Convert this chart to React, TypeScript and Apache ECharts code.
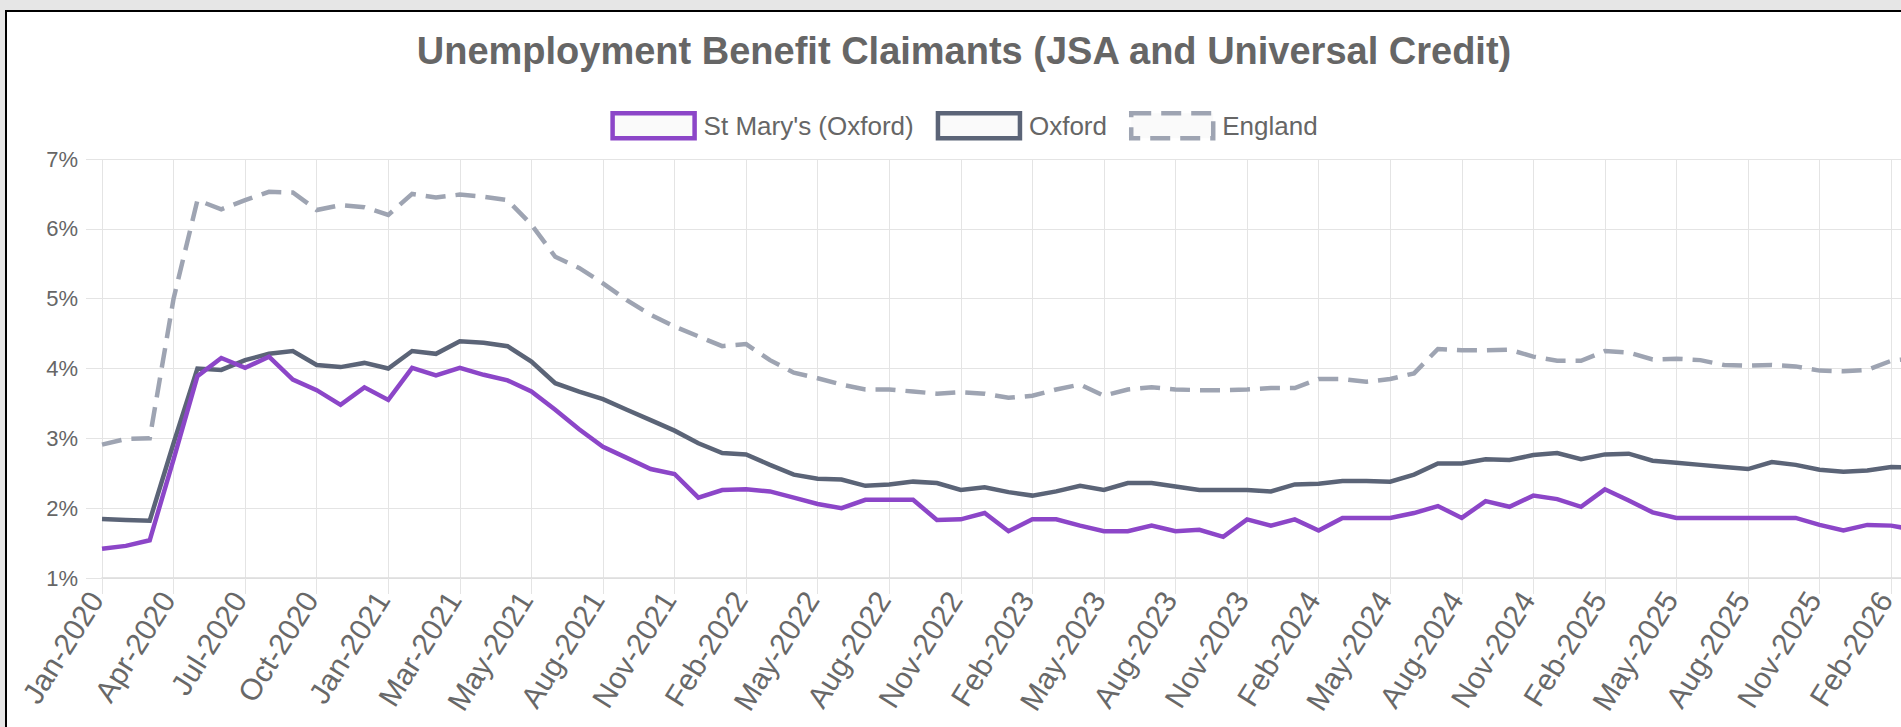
import React, { useEffect, useRef } from 'react';
import * as echarts from 'echarts';

const titleText = 'Unemployment Benefit Claimants (JSA and Universal Credit)';

const categories = [
  'Jan-2020', 'Feb-2020', 'Mar-2020', 'Apr-2020', 'May-2020', 'Jun-2020', 'Jul-2020', 'Aug-2020', 'Sep-2020', 'Oct-2020', 'Nov-2020', 'Dec-2020',
  'Jan-2021', 'Feb-2021', 'Feb-2021', 'Mar-2021', 'Apr-2021', 'Apr-2021', 'May-2021', 'Jun-2021', 'Jul-2021', 'Aug-2021', 'Sep-2021', 'Oct-2021', 'Nov-2021', 'Dec-2021',
  'Jan-2022', 'Feb-2022', 'Mar-2022', 'Apr-2022', 'May-2022', 'Jun-2022', 'Jul-2022', 'Aug-2022', 'Sep-2022', 'Oct-2022', 'Nov-2022', 'Dec-2022',
  'Jan-2023', 'Feb-2023', 'Mar-2023', 'Apr-2023', 'May-2023', 'Jun-2023', 'Jul-2023', 'Aug-2023', 'Sep-2023', 'Oct-2023', 'Nov-2023', 'Dec-2023',
  'Jan-2024', 'Feb-2024', 'Mar-2024', 'Apr-2024', 'May-2024', 'Jun-2024', 'Jul-2024', 'Aug-2024', 'Sep-2024', 'Oct-2024', 'Nov-2024', 'Dec-2024',
  'Jan-2025', 'Feb-2025', 'Mar-2025', 'Apr-2025', 'May-2025', 'Jun-2025', 'Jul-2025', 'Aug-2025', 'Sep-2025', 'Oct-2025', 'Nov-2025', 'Dec-2025',
  'Jan-2026', 'Feb-2026', 'Mar-2026',
];

const stMarys = [
  1.42, 1.46, 1.54, 2.7, 3.89, 4.15, 4.01, 4.17, 3.84, 3.69, 3.48, 3.73,
  3.55, 4.01, 3.9, 4.01, 3.91, 3.83, 3.67, 3.41, 3.13, 2.88, 2.72, 2.56, 2.49, 2.15,
  2.26, 2.27, 2.24, 2.15, 2.06, 2.0, 2.12, 2.12, 2.12, 1.83, 1.84, 1.93,
  1.67, 1.84, 1.84, 1.75, 1.67, 1.67, 1.75, 1.67, 1.69, 1.59, 1.84, 1.75,
  1.84, 1.68, 1.86, 1.86, 1.86, 1.93, 2.03, 1.86, 2.1, 2.02, 2.18, 2.13,
  2.02, 2.27, 2.11, 1.94, 1.86, 1.86, 1.86, 1.86, 1.86, 1.86, 1.76, 1.68,
  1.76, 1.75, 1.69,
];

const oxford = [
  1.845, 1.83, 1.82, 2.93, 4.0, 3.98, 4.12, 4.21, 4.25, 4.05, 4.02, 4.08,
  4.0, 4.25, 4.21, 4.39, 4.37, 4.32, 4.1, 3.79, 3.67, 3.56, 3.41, 3.26, 3.11, 2.93,
  2.79, 2.77, 2.62, 2.48, 2.42, 2.41, 2.32, 2.34, 2.38, 2.36, 2.26, 2.3,
  2.23, 2.18, 2.24, 2.32, 2.26, 2.36, 2.36, 2.31, 2.26, 2.26, 2.26, 2.24,
  2.34, 2.35, 2.39, 2.39, 2.38, 2.48, 2.64, 2.64, 2.7, 2.69, 2.76, 2.79,
  2.7, 2.77, 2.78, 2.68, 2.65, 2.62, 2.59, 2.56, 2.66, 2.62, 2.55, 2.52,
  2.54, 2.59, 2.58,
];

const england = [
  2.91, 2.99, 3.0, 5.0, 6.41, 6.28, 6.41, 6.53, 6.52, 6.27, 6.34, 6.31,
  6.2, 6.5, 6.45, 6.49, 6.46, 6.41, 6.06, 5.6, 5.44, 5.22, 4.98, 4.77, 4.6, 4.46,
  4.32, 4.35, 4.12, 3.94, 3.86, 3.77, 3.7, 3.7, 3.67, 3.64, 3.66, 3.64,
  3.58, 3.61, 3.7, 3.77, 3.61, 3.7, 3.73, 3.7, 3.69, 3.69, 3.7, 3.72,
  3.72, 3.85, 3.85, 3.81, 3.85, 3.93, 4.28, 4.26, 4.26, 4.27, 4.17, 4.11,
  4.11, 4.25, 4.23, 4.13, 4.14, 4.12, 4.05, 4.04, 4.05, 4.03, 3.97, 3.96,
  3.98, 4.11, 4.15,
];

const seriesNames = ["St Mary's (Oxford)", 'Oxford', 'England'];
const seriesColors = ['#8c46c8', '#5b6477', '#9ea4b2'];

const yMin = 1;
const yMax = 7;
const yStep = 1;

const FONT = '"Liberation Sans", Arial, Helvetica, sans-serif';

export default function App() {
  const ref = useRef<HTMLDivElement>(null);

  useEffect(() => {
    if (!ref.current) return;
    const chart = echarts.init(ref.current, undefined, { renderer: 'svg' });
    const grid = '#e4e4e4';
    chart.setOption({
      animation: false,
      backgroundColor: 'transparent',
      textStyle: { fontFamily: FONT },
      title: {
        text: titleText,
        left: 'center',
        top: 27,
        textStyle: { fontFamily: FONT, fontSize: 38, fontWeight: 'bold', color: '#666' },
      },
      legend: {
        top: 106,
        left: 'center',
        itemWidth: 82,
        itemHeight: 25,
        itemGap: 22,
        textStyle: { fontFamily: FONT, fontSize: 26, color: '#666', padding: [0, 0, 0, 4] },
        data: seriesNames.map((n, i) => ({
          name: n,
          icon: 'rect',
          itemStyle: {
            color: '#fafafa',
            borderColor: seriesColors[i],
            borderWidth: 4.5,
            borderType: i === 2 ? [20, 10] : 'solid',
          },
        })),
      },
      grid: { left: 102, right: 13, top: 159, bottom: 182, containLabel: false },
      xAxis: {
        type: 'category',
        data: categories,
        boundaryGap: false,
        axisLine: { show: true, lineStyle: { color: '#dcdcdc', width: 1.5 } },
        axisTick: { show: true, interval: 2, length: 16, lineStyle: { color: grid } },
        axisLabel: {
          interval: 2,
          rotate: 58,
          fontSize: 30,
          lineHeight: 14,
          verticalAlign: 'bottom',
          color: '#686868',
          margin: 20,
          fontFamily: FONT,
        },
        splitLine: { show: true, interval: 2, lineStyle: { color: grid, width: 1 } },
      },
      yAxis: {
        type: 'value',
        min: yMin,
        max: yMax,
        interval: yStep,
        axisLine: { show: false },
        axisTick: { show: true, length: 16, lineStyle: { color: grid } },
        axisLabel: { formatter: '{value}%', fontSize: 22, color: '#666', margin: 24, fontFamily: FONT },
        splitLine: { show: true, lineStyle: { color: grid, width: 1 } },
      },
      series: [
        { name: seriesNames[0], data: stMarys },
        { name: seriesNames[1], data: oxford },
        { name: seriesNames[2], data: england },
      ].map((s, i) => ({
        ...s,
        type: 'line',
        symbol: 'none',
        showSymbol: false,
        z: 10 - i,
        itemStyle: { color: seriesColors[i] },
        lineStyle: {
          color: seriesColors[i],
          width: 4.5,
          type: i === 2 ? [20, 10] : 'solid',
          join: 'miter',
        },
      })),
    });
    return () => chart.dispose();
  }, []);

  return (
    <div style={{ position: 'fixed', left: 0, top: 0, width: 1901, height: 727, overflow: 'hidden', background: '#e6e6e6' }}>
      <div
        style={{
          position: 'absolute',
          left: 5,
          top: 10,
          width: 1980,
          height: 820,
          background: '#fff',
          borderTop: '2px solid #000',
          borderLeft: '2px solid #000',
          boxSizing: 'border-box',
        }}
      />
      <div ref={ref} style={{ position: 'absolute', left: 0, top: 0, width: 1928, height: 760 }} />
    </div>
  );
}
